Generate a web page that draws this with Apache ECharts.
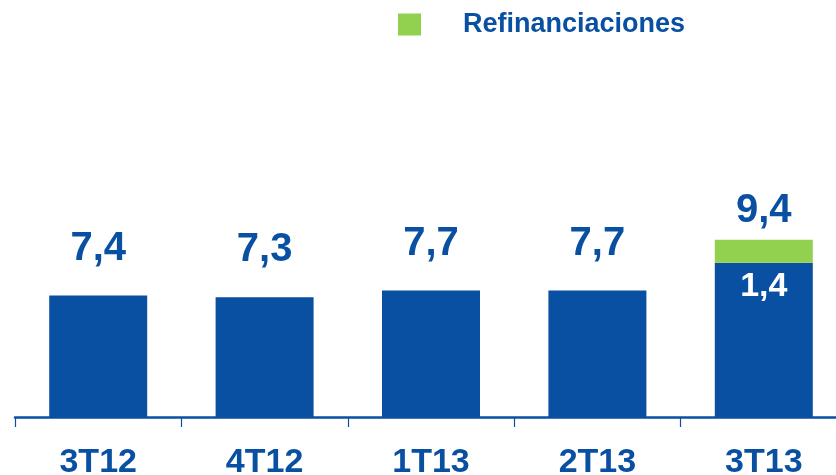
<!DOCTYPE html>
<html>
<head>
<meta charset="utf-8">
<script src="https://cdn.jsdelivr.net/npm/echarts@6/dist/echarts.min.js"></script>
<style>
  html, body { margin: 0; padding: 0; background: #fff; overflow: hidden; }
  #chart { width: 850px; height: 475px; }
</style>
</head>
<body>
<div id="chart"></div>
<script>
const categories = ['3T12', '4T12', '1T13', '2T13', '3T13']
const baseValues = [7.4, 7.3, 7.7, 7.7, 9.4]
const refinValues = [null, null, null, null, 1.4]

const blue = '#0a50a2'
const green = '#92d050'
const font = 'Liberation Sans'
const fmt = v => v.toFixed(1).replace('.', ',')

const chart = echarts.init(document.getElementById('chart'))

chart.setOption({
  animation: false,
  grid: { left: 15, right: 3, top: 220, bottom: 58, outerBoundsMode: 'none', containLabel: false },
  legend: {
    data: ['Refinanciaciones'],
    left: 398,
    top: 11,
    padding: 0,
    itemWidth: 23,
    itemHeight: 22,
    icon: 'rect',
    textStyle: {
      color: blue,
      fontFamily: font,
      fontWeight: 'bold',
      fontSize: 27,
      padding: [0, 0, 0, 37]
    }
  },
  xAxis: {
    type: 'category',
    data: categories,
    axisLine: { lineStyle: { color: blue, width: 2.5 } },
    axisTick: { show: true, length: 10, lineStyle: { color: blue, width: 1.2 } },
    axisLabel: {
      color: blue,
      fontFamily: font,
      fontWeight: 'bold',
      fontSize: 34,
      margin: 29
    }
  },
  yAxis: { type: 'value', min: 0, max: 12, show: false },
  series: [
    {
      name: 'Base',
      type: 'bar',
      stack: 'total',
      barWidth: 98,
      itemStyle: { color: blue },
      data: baseValues.map((v, i) => i === 4
        ? { value: v, label: { position: 'insideTop', color: '#fff', fontSize: 34, distance: 7 } }
        : v),
      label: {
        show: true,
        position: 'top',
        distance: 27,
        color: blue,
        fontFamily: font,
        fontWeight: 'bold',
        fontSize: 40,
        formatter: p => p.dataIndex === 4 ? fmt(refinValues[4]) : fmt(p.value)
      }
    },
    {
      name: 'Refinanciaciones',
      type: 'bar',
      stack: 'total',
      barWidth: 98,
      itemStyle: { color: green },
      data: refinValues,
      label: {
        show: true,
        position: 'top',
        distance: 9,
        color: blue,
        fontFamily: font,
        fontWeight: 'bold',
        fontSize: 40,
        formatter: p => fmt(baseValues[p.dataIndex])
      }
    }
  ]
})
</script>
</body>
</html>
